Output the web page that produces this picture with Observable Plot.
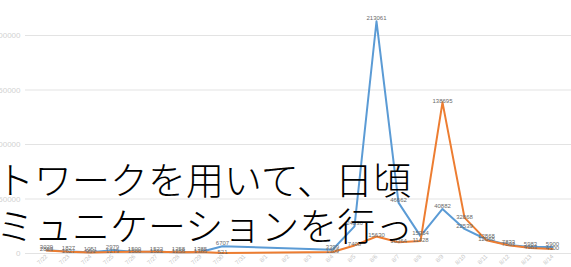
<!DOCTYPE html>
<html>
<head>
<meta charset="utf-8">
<script src="https://cdn.jsdelivr.net/npm/d3@7"></script>
<script src="https://cdn.jsdelivr.net/npm/@observablehq/plot@0.6"></script>
<style>
  html, body { margin: 0; padding: 0; background: #fff; }
  #wrap { position: relative; width: 571px; height: 267px; overflow: hidden; }
  #overlay { position: absolute; left: 0; top: 0; width: 571px; height: 267px; pointer-events: none;
    font-family: "Noto Sans CJK JP", "Noto Sans CJK SC", sans-serif; font-weight: 300; color: #000; }
  #overlay div { position: absolute; white-space: nowrap; font-size: 38px; line-height: 1; }
</style>
</head>
<body>
<div id="wrap"><div id="chart"></div><div id="overlay"></div></div>
<script>
const dates = ["7/22","7/23","7/24","7/25","7/26","7/27","7/28","7/29","7/30","7/31","8/1","8/2","8/3","8/4","8/5","8/6","8/7","8/8","8/9","8/10","8/11","8/12","8/13","8/14"];
const seriesBlue = [3029,1827,1051,2979,1500,1522,1258,1385,6707,null,null,null,null,3399,24836,213061,46662,15954,40882,22539,12868,7833,5983,5900];
const seriesOrange = [2829,1627,951,1279,1500,1522,1258,1385,521,null,null,null,null,1309,7408,15630,10364,11428,138695,32868,12068,7503,4983,4100];
const yTicks = [0,50000,100000,150000,200000];
const overlayLines = ["トワークを用いて、日頃", "ミュニケーションを行っ"];

const blue = "#5b9bd5", orange = "#ed7d31";
const rowsB = dates.map((d, i) => ({date: d, value: seriesBlue[i]})).filter(r => r.value != null);
const rowsO = dates.map((d, i) => ({date: d, value: seriesOrange[i]})).filter(r => r.value != null);

const chart = Plot.plot({
  width: 571,
  height: 267,
  marginLeft: 25,
  marginRight: 0,
  marginTop: 0,
  marginBottom: 14,
  style: {fontFamily: "Liberation Sans, Arial, sans-serif", background: "transparent"},
  x: {type: "point", domain: dates, range: [35, 563], label: null},
  y: {domain: [0, 200000], range: [253, 35], label: null},
  marks: [
    Plot.ruleY(yTicks, {stroke: "#e3e3e3", strokeWidth: 1}),
    Plot.axisY({ticks: yTicks, tickSize: 0, tickPadding: 5, tickFormat: d => String(d), fontSize: 8, fill: "#d2d2d2", label: null}),
    Plot.axisX({tickSize: 0, tickRotate: -45, tickPadding: 2, fontSize: 6, fill: "#c4c4c4", label: null}),
    Plot.lineY(rowsB, {x: "date", y: "value", stroke: blue, strokeWidth: 2, strokeLinejoin: "round"}),
    Plot.lineY(rowsO, {x: "date", y: "value", stroke: orange, strokeWidth: 2, strokeLinejoin: "round"}),
    Plot.text(rowsB, {x: "date", y: "value", text: d => String(d.value), dy: -3, fontSize: 6, fill: "#6a6a6a"}),
    Plot.text(rowsO, {x: "date", y: "value", text: d => String(d.value), dy: -1, fontSize: 6, fill: "#6a6a6a"})
  ]
});
document.getElementById("chart").appendChild(chart);

const ov = document.getElementById("overlay");
const tops = [159, 205];
const lefts = [-4, -4];
overlayLines.forEach((t, i) => {
  const el = document.createElement("div");
  el.textContent = t;
  el.style.top = tops[i] + "px";
  el.style.left = lefts[i] + "px";
  ov.appendChild(el);
});
</script>
</body>
</html>
